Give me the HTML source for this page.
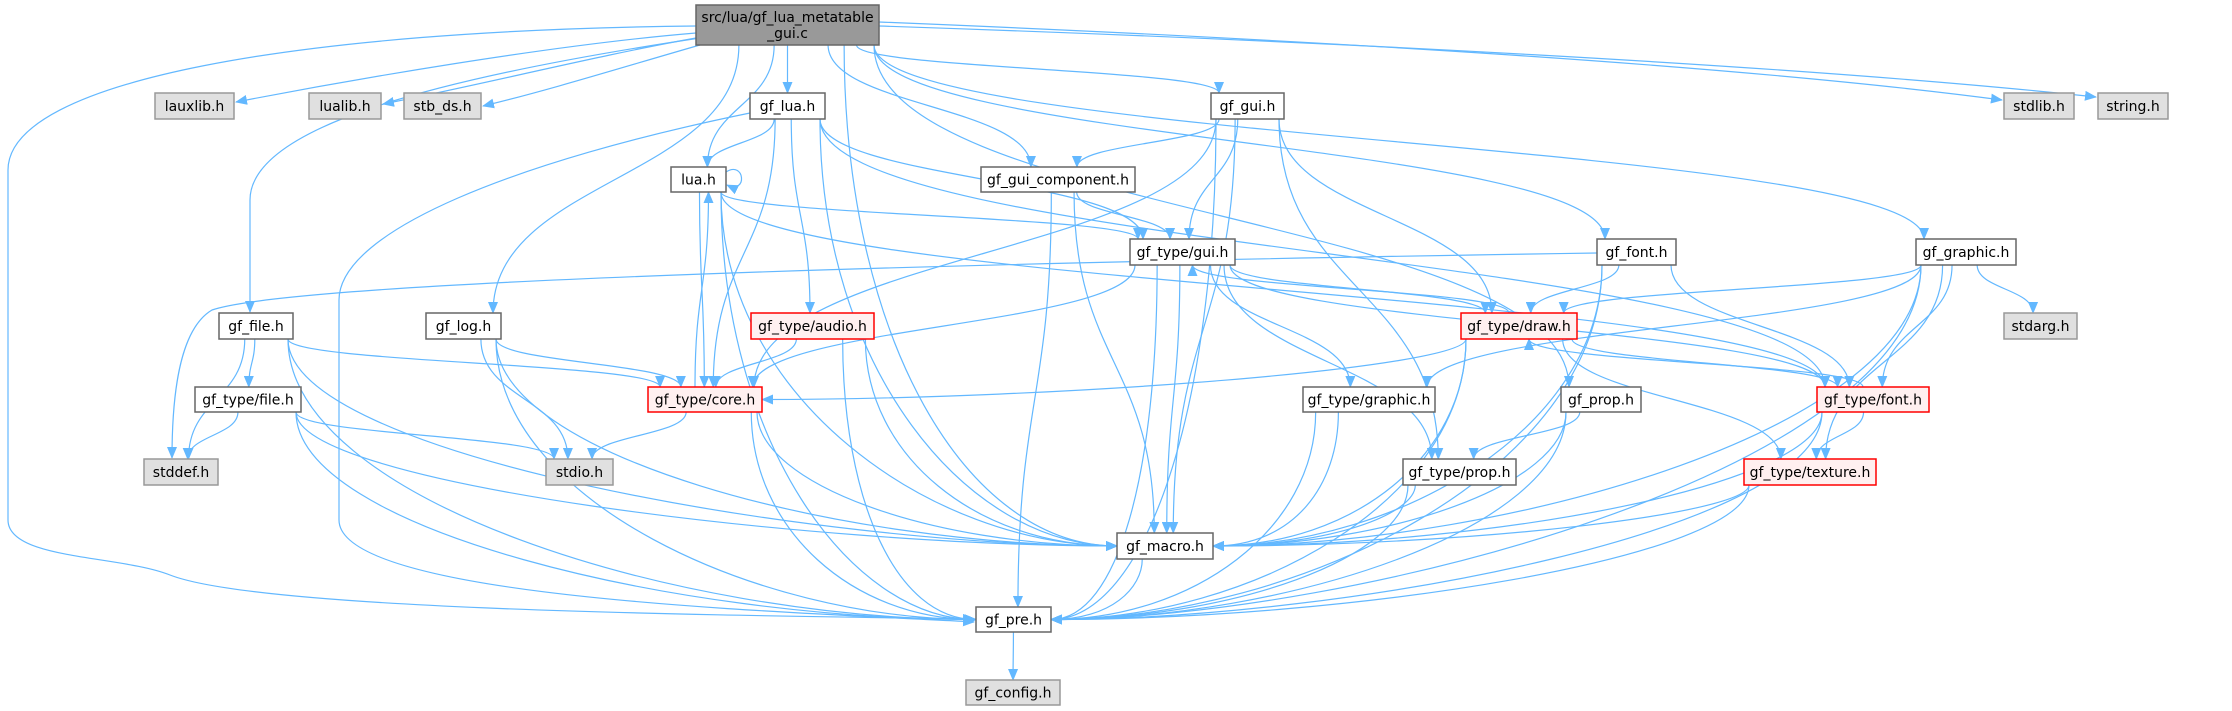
<!DOCTYPE html>
<html><head><meta charset="utf-8">
<style>
html,body{margin:0;padding:0;background:#fff;}
svg{display:block;}
text{font-family:"DejaVu Sans","Liberation Sans",sans-serif;font-size:14px;fill:#000;}
</style></head>
<body>
<svg id="g" width="2232" height="711" viewBox="0 0 2232 711" xmlns="http://www.w3.org/2000/svg">
<defs>
<marker id="ah" markerWidth="12" markerHeight="10" refX="11" refY="5" orient="auto" markerUnits="userSpaceOnUse">
<path d="M0,0 L12,5 L0,10 z" fill="#63b8ff"/>
</marker>
</defs>
<g id="edges" fill="none" stroke="#63b8ff" stroke-width="1.2"></g>
<g id="nodes"></g>
</svg>
<script>
var N={
root:[696,5,879,45,["src/lua/gf_lua_metatable","_gui.c"],"root"],
lauxlib:[155,93,234,119,"lauxlib.h","g"],
lualib:[309,93,381,119,"lualib.h","g"],
stb:[404,93,481,119,"stb_ds.h","g"],
gflua:[750,93,825,119,"gf_lua.h","w"],
gfgui:[1211,93,1284,119,"gf_gui.h","w"],
stdlib:[2004,93,2074,119,"stdlib.h","g"],
string:[2098,93,2168,119,"string.h","g"],
lua:[671,167,726,192,"lua.h","w"],
comp:[981,167,1135,192,"gf_gui_component.h","w"],
tgui:[1130,239,1235,265,"gf_type/gui.h","w"],
font:[1597,239,1676,265,"gf_font.h","w"],
graphic:[1916,239,2016,265,"gf_graphic.h","w"],
file:[219,313,293,339,"gf_file.h","w"],
log:[426,313,501,339,"gf_log.h","w"],
audio:[751,313,874,339,"gf_type/audio.h","r"],
draw:[1461,313,1577,339,"gf_type/draw.h","r"],
stdarg:[2004,313,2077,339,"stdarg.h","g"],
tfile:[195,387,301,412,"gf_type/file.h","w"],
core:[648,387,762,412,"gf_type/core.h","r"],
tgraphic:[1303,387,1435,412,"gf_type/graphic.h","w"],
prop:[1561,387,1641,412,"gf_prop.h","w"],
tfont:[1817,387,1929,412,"gf_type/font.h","r"],
stddef:[144,459,218,485,"stddef.h","g"],
stdio:[546,459,613,485,"stdio.h","g"],
tprop:[1403,459,1516,485,"gf_type/prop.h","w"],
texture:[1744,459,1876,485,"gf_type/texture.h","r"],
macro:[1117,533,1213,559,"gf_macro.h","w"],
pre:[976,607,1051,632,"gf_pre.h","w"],
config:[966,680,1060,705,"gf_config.h","g"]
};
var E=[
["root","gflua"],["root","lua"],["root","comp"],["root","gfgui"],["root","log"],["root","font"],["root","graphic"],["root","prop"],["root","macro"],
["gflua","lua"],["gflua","audio"],["gflua","core"],["gflua","macro"],["gflua","tgui"],["gflua","tfont"],
["lua","tgui"],["lua","core"],["lua","pre"],["lua","macro"],["lua","tfont"],
["comp","tgui"],["comp","macro"],["comp","pre"],
["gfgui","comp"],["gfgui","tgui"],["gfgui","draw"],["gfgui","core"],["gfgui","macro"],["gfgui","tprop"],["gfgui","pre"],
["tgui","draw"],["tgui","core"],["tgui","tgraphic"],["tgui","tprop"],["tgui","macro"],["tgui","pre"],["tgui","tfont"],
["draw","tgui"],["draw","core"],["draw","tfont"],["draw","texture"],["draw","macro"],["draw","pre"],
["font","draw"],["font","tfont"],["font","macro"],["font","pre"],
["graphic","draw"],["graphic","tgraphic"],["graphic","tfont"],["graphic","stdarg"],["graphic","texture"],["graphic","macro"],["graphic","pre"],
["file","tfile"],["file","stddef"],["file","core"],["file","macro"],["file","pre"],
["log","core"],["log","stdio"],["log","macro"],["log","pre"],
["audio","core"],["audio","macro"],["audio","pre"],
["tfile","stddef"],["tfile","stdio"],["tfile","macro"],["tfile","pre"],
["core","lua"],["core","stdio"],["core","macro"],["core","pre"],
["tgraphic","macro"],["tgraphic","pre"],
["prop","tprop"],["prop","macro"],["prop","pre"],
["tfont","draw"],["tfont","texture"],["tfont","macro"],["tfont","pre"],
["tprop","macro"],["tprop","pre"],
["texture","macro"],["texture","pre"],
["macro","pre"],["pre","config"]
];
var custom=[
"M696,26 C300,30 8,80 8,170 L8,520 C8,560 120,555 170,575 C260,610 700,615 974,619",
"M700,38 C420,80 250,130 250,200 L250,312",
"M750,113 C520,160 339,230 339,300 L339,520 C339,600 800,612 974,622",
"M1597,253 C1000,262 300,280 212,310 C178,330 172,400 172,458",
"M726,172 C745,160 748,195 727,185",
"M696,33 C550,45 350,80 236,102",
"M696,38 C600,55 480,85 383,104",
"M700,45 C630,65 550,90 483,106",
"M879,22 C1200,35 1700,60 2002,100",
"M879,26 C1300,40 1800,65 2096,97"
];
var eg=document.getElementById('edges'),ng=document.getElementById('nodes');
var NS="http://www.w3.org/2000/svg";
function P(d){var p=document.createElementNS(NS,'path');p.setAttribute('d',d);p.setAttribute('marker-end','url(#ah)');eg.appendChild(p);}
E.forEach(function(e){
 var a=N[e[0]],b=N[e[1]];
 var ax=(a[0]+a[2])/2,bx=(b[0]+b[2])/2,d;
 if(b[1]>=a[3]){
  var dy=b[1]-a[3],dx=bx-ax;
  var sx=ax+Math.max(-(a[2]-a[0])/2+5,Math.min((a[2]-a[0])/2-5,dx*0.15));
  var sy=a[3];
  var side=(e[1]=="pre"&&Math.abs(dx)>60)||(e[1]=="macro"&&Math.abs(dx)>120)||(e[0]=="draw"&&e[1]=="core");
  if(side){
   var ty=(b[1]+b[3])/2, tx=dx>0?b[0]:b[2];
   d="M"+sx+","+sy+" C"+sx+","+(sy+dy*0.6)+" "+(tx-(dx>0?1:-1)*Math.min(300,Math.abs(dx)*0.4))+","+ty+" "+tx+","+ty;
  } else {
   var tx2=bx-Math.max(-(b[2]-b[0])/2+8,Math.min((b[2]-b[0])/2-8,dx*0.1));
   var ty2=b[1];
   d="M"+sx+","+sy+" C"+sx+","+(sy+dy*0.5)+" "+tx2+","+(ty2-dy*0.5)+" "+tx2+","+ty2;
  }
 } else if(b[3]<=a[1]){
  var sy2=a[1],ty3=b[3],sx2=ax-10,tx3=bx+10;
  d="M"+sx2+","+sy2+" C"+sx2+","+(sy2-(sy2-ty3)*0.5)+" "+tx3+","+(ty3+(sy2-ty3)*0.5)+" "+tx3+","+ty3;
 } else {
  var ay=(a[1]+a[3])/2;
  d="M"+(bx>ax?a[2]:a[0])+","+ay+" L"+(bx>ax?b[0]:b[2])+","+((b[1]+b[3])/2);
 }
 P(d);
});
custom.forEach(P);
var col={root:["#999999","#666666"],g:["#e0e0e0","#999999"],w:["#ffffff","#666666"],r:["#fff0f0","#ff0000"]};
for(var k in N){var n=N[k];var r=document.createElementNS(NS,'rect');
 r.setAttribute('x',n[0]);r.setAttribute('y',n[1]);r.setAttribute('width',n[2]-n[0]);r.setAttribute('height',n[3]-n[1]);
 r.setAttribute('fill',col[n[5]][0]);r.setAttribute('stroke',col[n[5]][1]);r.setAttribute('stroke-width','1.5');ng.appendChild(r);
 var lines=Array.isArray(n[4])?n[4]:[n[4]];var cx=(n[0]+n[2])/2,cy=(n[1]+n[3])/2;
 lines.forEach(function(t,i){var tx=document.createElementNS(NS,'text');tx.setAttribute('x',cx);
  tx.setAttribute('y',cy+5+(i-(lines.length-1)/2)*16);tx.setAttribute('text-anchor','middle');tx.textContent=t;ng.appendChild(tx);});
}
</script>
</body></html>
